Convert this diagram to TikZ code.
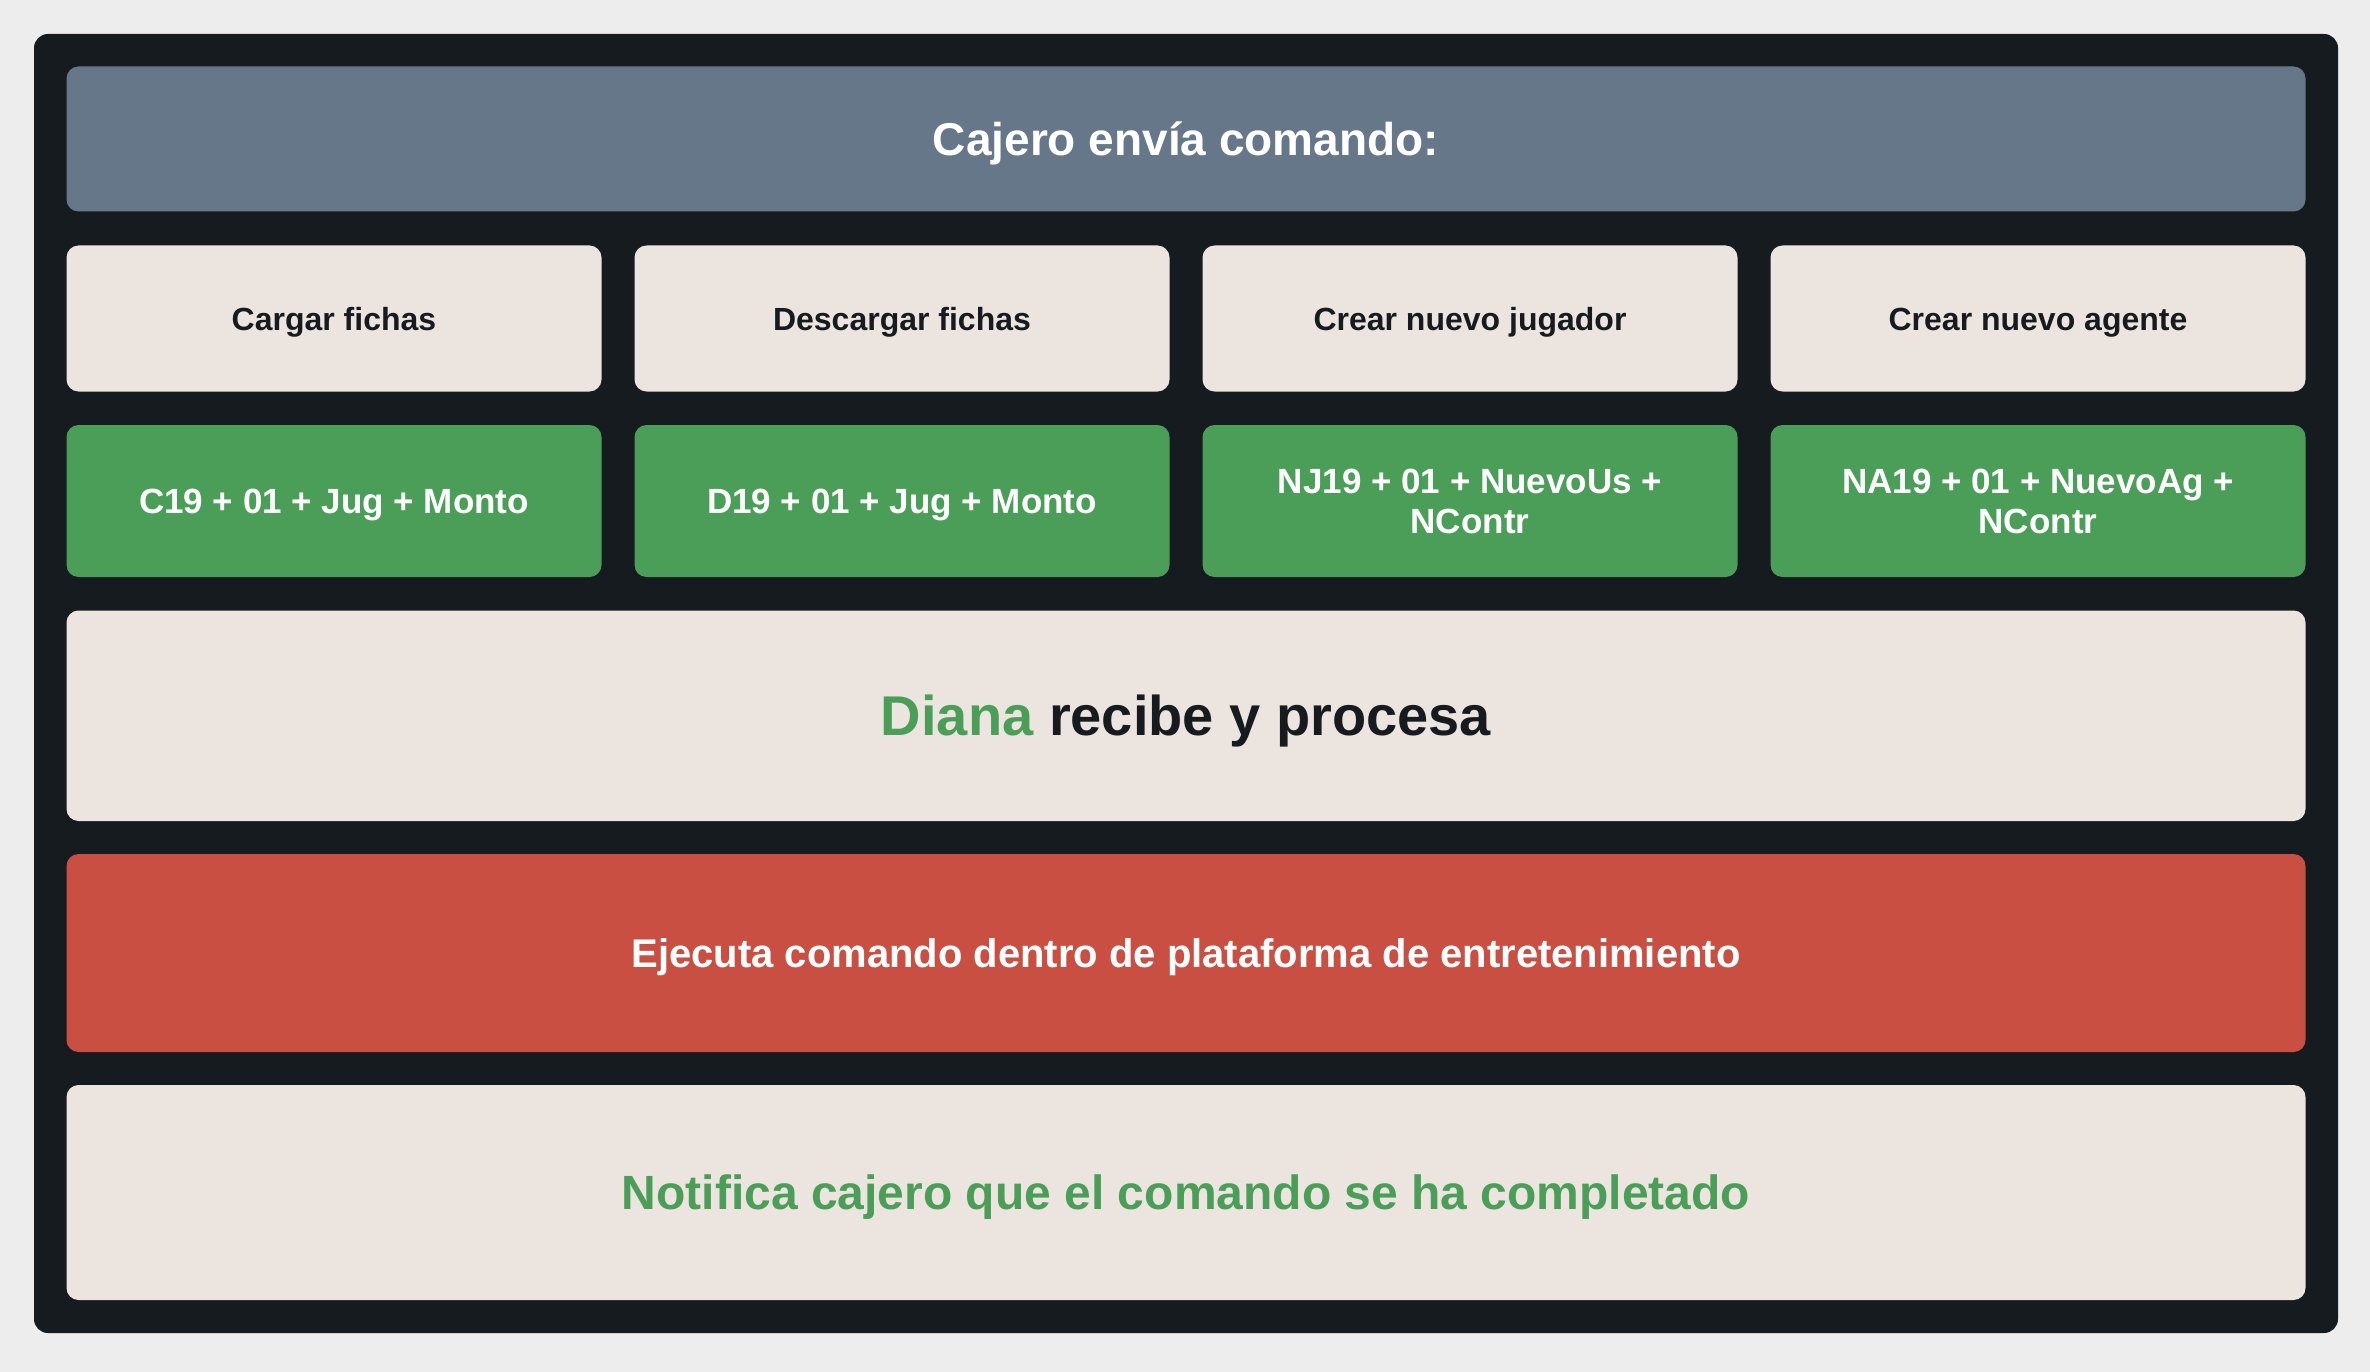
\documentclass[tikz,border=0pt]{standalone}
\usepackage{fontspec}
\setmainfont{Liberation Sans}
\definecolor{bgc}{HTML}{EDEDED}
\definecolor{panel}{HTML}{161B20}
\definecolor{headc}{HTML}{667789}
\definecolor{lightc}{HTML}{EBE4DF}
\definecolor{greenc}{HTML}{4B9E57}
\definecolor{redc}{HTML}{C84F42}
\definecolor{darktext}{HTML}{171B20}
\begin{document}
\begin{tikzpicture}[x=1pt,y=-1pt,
  box/.style={rectangle, rounded corners=12pt, inner sep=0pt, align=center, text depth=0pt},
  fs/.style n args={2}{font=\bfseries\fontsize{#1}{#2}\selectfont, text height={0.72*#1pt}},
  lightbox/.style={box, fill=lightc, text=darktext},
  greenbox/.style={box, fill=greenc, text=white},
  colw/.style={minimum width=535pt},
  fullw/.style={minimum width=2239pt},
  smallf/.style={fs={32}{38}},
  codef/.style={fs={35}{39.5}},
  twoline/.style={text height={0.72*35pt+39.5pt}}
]
\fill[bgc] (0,0) rectangle (2370,1372);
\useasboundingbox (0,0) rectangle (2370,1372);
\fill[panel, rounded corners=14pt] (34,34) rectangle (2338,1333);
\node[box, fill=headc, text=white, fullw, minimum height=145pt, fs={46}{52}] (head) at (1186,139) {Cajero envía comando:};
\node[lightbox, colw, minimum height=146pt, smallf] (c1) at (334,318.5) {Cargar fichas};
\node[lightbox, colw, minimum height=146pt, smallf] (c2) at (902,318.5) {Descargar fichas};
\node[lightbox, colw, minimum height=146pt, smallf] (c3) at (1470,318.5) {Crear nuevo jugador};
\node[lightbox, colw, minimum height=146pt, smallf] (c4) at (2038,318.5) {Crear nuevo agente};
\node[greenbox, colw, minimum height=152pt, codef] (g1) at (334,501) {C19 + 01 + Jug + Monto};
\node[greenbox, colw, minimum height=152pt, codef] (g2) at (902,501) {D19 + 01 + Jug + Monto};
\node[greenbox, colw, minimum height=152pt, codef, twoline] (g3) at (1470,501) {NJ19 + 01 + NuevoUs +\\NContr};
\node[greenbox, colw, minimum height=152pt, codef, twoline] (g4) at (2038,501) {NA19 + 01 + NuevoAg +\\NContr};
\node[lightbox, fullw, minimum height=210.5pt, fs={56}{62}] (diana) at (1186,715.75) {\textcolor{greenc}{Diana} recibe y procesa};
\node[box, fill=redc, text=white, fullw, minimum height=198pt, fs={40}{46}] (exec) at (1186,953) {Ejecuta comando dentro de plataforma de entretenimiento};
\node[lightbox, text=greenc, fullw, minimum height=215pt, fs={48}{54}] (notif) at (1186,1192.5) {Notifica cajero que el comando se ha completado};
\end{tikzpicture}
\end{document}
